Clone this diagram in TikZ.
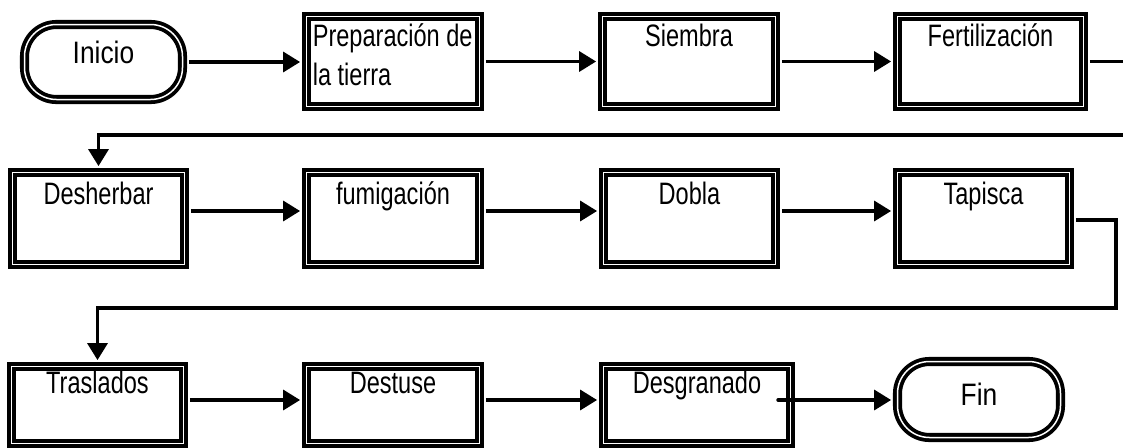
\documentclass[tikz,border=0pt]{standalone}
\usepackage{fontspec}
\setmainfont{Liberation Sans}[FakeStretch=0.76]
\newfontfamily\termfont{Liberation Sans}[FakeStretch=0.85]
\usetikzlibrary{arrows.meta}
\begin{document}
\begin{tikzpicture}[x=1pt,y=-1pt,
  bx/.style={draw, line width=3.8pt, double=white, double distance=1.5pt, fill=white, inner sep=0pt},
  term/.style={bx, rounded corners=32pt},
  txt/.style={font=\fontsize{31}{39}\selectfont, inner sep=0pt, draw=none, fill=none},
  ttxt/.style={font=\termfont\fontsize{31}{36}\selectfont, inner sep=0pt, draw=none, fill=none},
  arr/.style={line width=3.4pt, -{Triangle[length=17pt,width=20pt]}, shorten >=4.5pt, shorten <=4.5pt},
  ln/.style={line width=3.4pt, shorten <=4.5pt}]
\useasboundingbox (0,0) rectangle (1123,447);
% row 1
\node[term, minimum width=158pt, minimum height=75pt,
  label={[ttxt, anchor=base, yshift=-40.5pt]north:Inicio}] (ini) at (103.5,62) {};
\node[bx, minimum width=173pt, minimum height=90pt,
  label={[txt, anchor=base west, xshift=8pt, yshift=-31.5pt]north west:{\begin{tabular}[t]{@{}l@{}}Preparación de\\la tierra\end{tabular}}}] (prep) at (393,61.5) {};
\node[bx, minimum width=173pt, minimum height=90pt,
  label={[txt, anchor=base, yshift=-31.5pt]north:Siembra}] (sie) at (689,61.5) {};
\node[bx, minimum width=186pt, minimum height=90pt,
  label={[txt, anchor=base, yshift=-31.5pt]north:Fertilización}] (fert) at (990.5,61.5) {};
% row 2
\node[bx, minimum width=172pt, minimum height=92pt,
  label={[txt, anchor=base, yshift=-33.5pt]north:Desherbar}] (desh) at (98.5,218.5) {};
\node[bx, minimum width=173pt, minimum height=92pt,
  label={[txt, anchor=base, yshift=-33.5pt]north:fumigación}] (fum) at (393,218.5) {};
\node[bx, minimum width=172pt, minimum height=92pt,
  label={[txt, anchor=base, yshift=-33.5pt]north:Dobla}] (dob) at (689.5,218.5) {};
\node[bx, minimum width=172pt, minimum height=92pt,
  label={[txt, anchor=base, yshift=-33.5pt]north:Tapisca}] (tap) at (983.5,218.5) {};
% row 3
\node[bx, minimum width=172pt, minimum height=77pt,
  label={[txt, anchor=base, yshift=-28.5pt]north:Traslados}] (tras) at (97.5,405) {};
\node[bx, minimum width=173pt, minimum height=77pt,
  label={[txt, anchor=base, yshift=-28.5pt]north:Destuse}] (dest) at (393,405) {};
\node[bx, minimum width=187pt, minimum height=77pt,
  label={[txt, anchor=base, yshift=-28.5pt]north:Desgranado}] (desg) at (697,405) {};
\node[term, minimum width=163pt, minimum height=76pt,
  label={[ttxt, anchor=base, yshift=-45.5pt]north:Fin}] (fin) at (979,399.5) {};
% connectors row 1
\draw[arr] (ini) -- (ini -| prep.west);
\draw[arr] (prep) -- (sie);
\draw[arr] (sie) -- (fert);
\coordinate (e1) at (1123,61.5);
\draw[ln] (fert) -- (e1);
\coordinate (e2) at (1123,135);
\draw[arr, shorten <=0pt] (e2) -- (e2 -| desh.north) -- (desh.north);
% connectors row 2
\draw[arr] ([yshift=7.5pt]desh.east) -- ([yshift=7.5pt]fum.west);
\draw[arr] ([yshift=7.5pt]fum.east) -- ([yshift=7.5pt]dob.west);
\draw[arr] ([yshift=7.5pt]dob.east) -- ([yshift=7.5pt]tap.west);
\coordinate (c1) at (1116,308);
\draw[arr] ([yshift=-1.5pt]tap.east) -- ([yshift=-1.5pt]tap.east -| c1) -- (c1) -- (c1 -| tras.north) -- (tras.north);
% connectors row 3
\draw[arr] ([yshift=5pt]tras.east) -- ([yshift=5pt]dest.west);
\draw[arr] ([yshift=5pt]dest.east) -- ([yshift=5pt]desg.west);
\coordinate (s3) at (778,400);
\draw[arr, shorten <=0pt, line cap=round] (s3) -- (s3 -| fin.west);
\end{tikzpicture}
\end{document}
